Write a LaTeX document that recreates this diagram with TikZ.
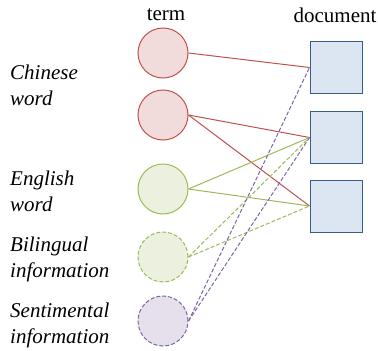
\documentclass[tikz,border=0pt]{standalone}
\usepackage{fontspec}
\setmainfont{Liberation Serif}
\definecolor{redl}{HTML}{C0504D}
\definecolor{redf}{HTML}{F2DCDB}
\definecolor{grnl}{HTML}{9BBB59}
\definecolor{grnf}{HTML}{EBF1DE}
\definecolor{purl}{HTML}{8064A2}
\definecolor{purf}{HTML}{E5E0EC}
\definecolor{blul}{HTML}{385D8A}
\definecolor{bluf}{HTML}{DCE6F2}
\begin{document}
\begin{tikzpicture}[x=1pt,y=-1pt,
  termc/.style={circle,minimum size=50pt,inner sep=0pt,line width=1pt},
  docb/.style={rectangle,minimum size=52pt,inner sep=0pt,draw=blul,fill=bluf,line width=1pt},
  lbl/.style={anchor=west,align=left,font=\fontsize{21}{26}\selectfont\itshape,inner sep=0pt},
  hdr/.style={font=\fontsize{21}{24}\selectfont,inner sep=0pt},
  edge/.style={line width=1pt},
  dedge/.style={line width=1pt,dash pattern=on 4pt off 2pt}]
\useasboundingbox (0,0) rectangle (378,351);
\node[hdr] (th) at (166,15) {term};
\node[hdr] (dh) at (335,15) {document};
\node[termc,draw=redl,fill=redf] (c1) at (163,53) {};
\node[termc,draw=redl,fill=redf] (c2) at (163,115) {};
\node[termc,draw=grnl,fill=grnf] (c3) at (163,189) {};
\node[termc,draw=grnl,fill=grnf,dash pattern=on 4pt off 2pt] (c4) at (163,257) {};
\node[termc,draw=purl,fill=purf,dash pattern=on 4pt off 2pt] (c5) at (163,321) {};
\node[docb] (d1) at (336,67.5) {};
\node[docb] (d2) at (336,137.5) {};
\node[docb] (d3) at (336,206) {};
\node[lbl] (l1) at (10,85) {Chinese\\word};
\node[lbl] (l2) at (10,191) {English\\word};
\node[lbl] (l3) at (10,259) {Bilingual\\information};
\node[lbl] (l4) at (10,325) {Sentimental\\information};
\draw[edge,redl] (c1.east) -- (d1.west);
\draw[edge,redl] (c2.east) -- (d2.west);
\draw[edge,redl] (c2.east) -- (d3.west);
\draw[edge,grnl] (c3.east) -- (d2.west);
\draw[edge,grnl] (c3.east) -- (d3.west);
\draw[dedge,grnl] (c4.east) -- (d2.west);
\draw[dedge,grnl] (c4.east) -- (d3.west);
\draw[dedge,purl] (c5.east) -- (d1.west);
\draw[dedge,purl] (c5.east) -- (d2.west);
\end{tikzpicture}
\end{document}
